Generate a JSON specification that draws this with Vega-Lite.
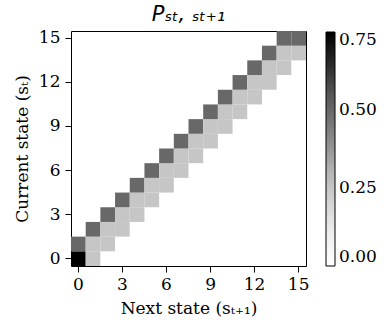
{
  "$schema": "https://vega.github.io/schema/vega-lite/v6.json",
  "autosize": {"type": "none"},
  "padding": {"left": 71, "top": 31, "right": 86, "bottom": 61},
  "width": 235,
  "height": 235,
  "title": {
    "text": "Pₛₜ, ₛₜ₊₁",
    "font": "DejaVu Sans",
    "fontStyle": "italic",
    "fontWeight": "normal",
    "fontSize": 21,
    "color": "black",
    "offset": 4
  },
  "data": {
    "values": [
      {"next": 0, "cur": 0, "p": 0.75}, {"next": 1, "cur": 0, "p": 0.25},
      {"next": 0, "cur": 1, "p": 0.5}, {"next": 1, "cur": 1, "p": 0.25}, {"next": 2, "cur": 1, "p": 0.25},
      {"next": 1, "cur": 2, "p": 0.5}, {"next": 2, "cur": 2, "p": 0.25}, {"next": 3, "cur": 2, "p": 0.25},
      {"next": 2, "cur": 3, "p": 0.5}, {"next": 3, "cur": 3, "p": 0.25}, {"next": 4, "cur": 3, "p": 0.25},
      {"next": 3, "cur": 4, "p": 0.5}, {"next": 4, "cur": 4, "p": 0.25}, {"next": 5, "cur": 4, "p": 0.25},
      {"next": 4, "cur": 5, "p": 0.5}, {"next": 5, "cur": 5, "p": 0.25}, {"next": 6, "cur": 5, "p": 0.25},
      {"next": 5, "cur": 6, "p": 0.5}, {"next": 6, "cur": 6, "p": 0.25}, {"next": 7, "cur": 6, "p": 0.25},
      {"next": 6, "cur": 7, "p": 0.5}, {"next": 7, "cur": 7, "p": 0.25}, {"next": 8, "cur": 7, "p": 0.25},
      {"next": 7, "cur": 8, "p": 0.5}, {"next": 8, "cur": 8, "p": 0.25}, {"next": 9, "cur": 8, "p": 0.25},
      {"next": 8, "cur": 9, "p": 0.5}, {"next": 9, "cur": 9, "p": 0.25}, {"next": 10, "cur": 9, "p": 0.25},
      {"next": 9, "cur": 10, "p": 0.5}, {"next": 10, "cur": 10, "p": 0.25}, {"next": 11, "cur": 10, "p": 0.25},
      {"next": 10, "cur": 11, "p": 0.5}, {"next": 11, "cur": 11, "p": 0.25}, {"next": 12, "cur": 11, "p": 0.25},
      {"next": 11, "cur": 12, "p": 0.5}, {"next": 12, "cur": 12, "p": 0.25}, {"next": 13, "cur": 12, "p": 0.25},
      {"next": 12, "cur": 13, "p": 0.5}, {"next": 13, "cur": 13, "p": 0.25}, {"next": 14, "cur": 13, "p": 0.25},
      {"next": 13, "cur": 14, "p": 0.5}, {"next": 14, "cur": 14, "p": 0.25}, {"next": 15, "cur": 14, "p": 0.25},
      {"next": 14, "cur": 15, "p": 0.5}, {"next": 15, "cur": 15, "p": 0.5}
    ]
  },
  "mark": {"type": "rect"},
  "encoding": {
    "x": {
      "field": "next",
      "type": "ordinal",
      "scale": {"domain": [0,1,2,3,4,5,6,7,8,9,10,11,12,13,14,15], "paddingInner": 0, "paddingOuter": 0},
      "axis": {"values": [0,3,6,9,12,15], "labelAngle": 0, "title": "Next state (sₜ₊₁)", "titlePadding": 8, "labelPadding": 4}
    },
    "y": {
      "field": "cur",
      "type": "ordinal",
      "scale": {"domain": [15,14,13,12,11,10,9,8,7,6,5,4,3,2,1,0], "paddingInner": 0, "paddingOuter": 0},
      "axis": {"values": [0,3,6,9,12,15], "title": "Current state (sₜ)", "titlePadding": 7, "labelPadding": 5}
    },
    "color": {
      "field": "p",
      "type": "quantitative",
      "scale": {
        "domain": [0, 0.09375, 0.1875, 0.28125, 0.375, 0.46875, 0.5625, 0.65625, 0.75],
        "range": ["#ffffff", "#f0f0f0", "#d9d9d9", "#bdbdbd", "#969696", "#737373", "#525252", "#252525", "#000000"],
        "interpolate": "rgb"
      },
      "legend": {
        "orient": "none",
        "legendX": 255,
        "legendY": 1,
        "direction": "vertical",
        "title": null,
        "gradientLength": 234,
        "gradientThickness": 9,
        "values": [0, 0.25, 0.5, 0.75],
        "format": ".2f",
        "labelOffset": 4,
        "labelBaseline": "middle"
      }
    }
  },
  "config": {
    "view": {"stroke": "black", "strokeWidth": 1},
    "axis": {
      "labelFont": "DejaVu Serif",
      "labelFontSize": 17,
      "labelColor": "black",
      "titleFont": "DejaVu Serif",
      "titleFontSize": 17,
      "titleFontWeight": "normal",
      "titleColor": "black",
      "tickColor": "black",
      "tickSize": 6,
      "domain": false,
      "grid": false
    },
    "legend": {
      "labelFont": "DejaVu Serif",
      "labelFontSize": 17,
      "labelColor": "black",
      "gradientStrokeColor": "black",
      "gradientStrokeWidth": 1
    }
  }
}
